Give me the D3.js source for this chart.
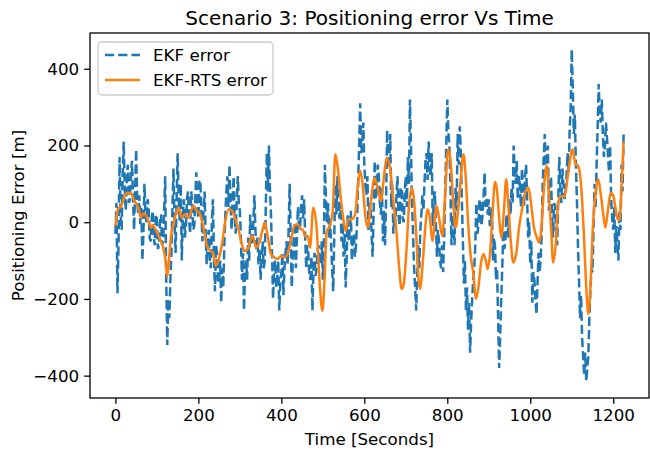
<!DOCTYPE html>
<html>
<head>
<meta charset="utf-8">
<script src="https://cdn.jsdelivr.net/npm/d3@7"></script>
<style>
  body { margin: 0; background: #fff; }
  svg text { font-family: "DejaVu Sans", sans-serif; fill: #000; }
</style>
</head>
<body>
<svg id="chart"></svg>
<script>
const W = 650
const H = 451
const margins = { top: 33, bottom: 53, left: 90, right: 1 }

// EKF error, one sample every 2.5 seconds starting at t = 0
const ekfStep = 2.5
const ekfError = [
  -30, 50, -185, -60, 170, 20, -20, 120, 210, 90, 30, 110, 150, 50, 60, 130, 160, 60, -20, 80,
  190, 60, 20, 70, -5, 40, -100, -30, 100, 20, 0, 60, 40, -40, -50, 10, 30, -40, -60, 20,
  10, -70, -60, 0, 20, -60, -50, 30, 120, -150, -320, -200, -250, -150, -80, 40, 140, 0, -80, 60,
  180, 60, 0, 100, -100, 20, 60, -40, -10, 60, 80, 10, -30, 80, 60, -20, -10, 60, 130, 40,
  10, 110, 100, 20, -50, 30, 80, -30, -110, -40, -20, -100, -120, 0, 60, -90, -180, -60, -80, -160,
  -150, -100, -210, -120, -170, -60, 20, 80, 120, 40, 150, 50, -20, 60, 120, 10, -30, 60, 120, 50,
  30, -40, -150, -80, -230, -130, -100, -150, -40, -100, 20, -50, -60, 0, 70, -20, -70, -40, -110, -70,
  -150, -90, -50, -120, -100, 40, 180, 80, 200, 90, 20, -80, -200, -120, -100, -170, -150, -100, -230, -160,
  -130, -80, -190, -120, -80, -50, -110, -20, 100, -40, -170, -100, -40, 0, -120, -40, 40, -10, -20, 40,
  70, 10, 60, -40, -120, -60, -80, -140, -150, -90, -230, -120, -80, -140, -120, -70, -60, -110, -100, -50,
  -150, -50, 150, 60, 0, 50, -40, 10, -60, -120, -180, -40, 100, 20, 120, 60, 10, 50, -50, 0,
  -90, -30, -170, -90, 20, -50, -20, 30, -100, -40, -30, -90, -60, 0, 100, 200, 310, 180, 200, 260,
  150, 100, 70, 120, -20, 40, 50, -30, -90, 30, 160, 60, 80, 150, 120, 50, 20, 90, -50, 30,
  -60, 60, 240, 140, 150, 230, 40, 100, -30, 20, 0, 70, 120, 20, -10, 90, 90, 10, 0, 80,
  120, 40, 170, 100, 320, 200, 50, -30, -120, -170, -230, -140, -60, -120, -20, 20, 70, 30, 100, 160,
  180, 110, 210, 140, 120, 180, -10, 60, 80, 0, -90, -20, -50, -100, -120, -60, -130, -40, 80, 200,
  320, 240, 200, 100, -60, 20, 0, -60, 90, 30, 230, 150, 250, 190, 60, -40, -160, -100, -230, -170,
  -280, -210, -340, -260, -200, -150, -120, -60, 50, -30, -10, 60, 50, -10, 20, 70, 130, 40, 60, 20,
  60, -10, 0, 40, -100, -40, -60, -150, -120, -250, -380, -300, -200, -120, -20, -70, -50, 20, 0, -40,
  60, 20, 90, 50, 200, 120, 100, 160, 60, 120, 100, 40, 140, 90, 40, 120, 150, 60, -40, 0,
  -110, -50, -210, -130, -150, -200, -240, -160, -80, -130, -100, -30, 100, 170, 230, 130, 150, 200, 30, 90,
  120, 20, -40, 50, 40, -30, -60, 60, 170, 90, 50, 140, 100, 60, 80, 120, 180, 130, 240, 300,
  450, 350, 230, 280, 150, 60, -60, -150, -250, -190, -300, -350, -400, -340, -415, -380, -350, -250, -180, -120,
  -130, -20, 100, 40, 150, 250, 360, 280, 260, 320, 230, 170, 200, 260, 220, 170, 130, 200, 60, 10,
  -20, 40, -80, -10, -50, -100, 30, -20, 150, 80, 230
]

// EKF-RTS error, [time, error] pairs
const rtsError = [
  [0, -10], [6, 34], [14, 42], [22, 68], [30, 77], [38, 75], [46, 55], [54, 42], [62, 12], [66, 22],
  [70, 22], [78, 8], [86, -14], [90, -7], [98, -22], [106, -40], [114, -62], [121, -100], [125, -142], [129, -100],
  [134, -36], [140, -5], [152, 38], [160, 12], [168, 21], [176, 12], [188, 42], [196, 30], [204, 21], [212, -14],
  [221, -62], [229, -75], [235, -79], [242, -113], [249, -96], [257, -57], [265, 3], [273, 34], [281, 30], [289, 8],
  [297, -20], [303, -49], [311, -75], [319, -70], [327, -40], [331, -36], [339, -66], [347, -53], [355, -18], [360, -1],
  [367, -36], [375, -83], [383, -92], [391, -96], [399, -88], [407, -92], [415, -83], [423, -49], [431, -10], [439, -5],
  [447, -18], [452, -20], [457, -36], [464, -36], [469, -66], [477, 38], [485, -14], [493, -170], [499, -231], [504, -153],
  [509, -27], [518, -5], [524, 30], [530, 177], [536, 142], [544, 55], [550, 3], [555, -23], [562, 8], [570, 8],
  [578, 21], [584, 90], [590, 134], [596, 99], [602, 21], [608, -14], [618, 73], [624, 116], [632, 90], [640, 55],
  [648, 125], [654, 168], [662, 142], [670, 55], [678, -31], [684, -118], [690, -174], [695, -161], [702, -66], [708, 47],
  [715, 90], [720, 55], [726, -49], [731, -153], [735, -174], [740, -118], [747, -14], [752, 34], [758, 12], [764, -49],
  [774, 42], [780, 12], [788, -36], [794, 55], [802, 190], [808, 160], [814, 55], [820, -14], [826, 30], [832, 108],
  [839, 177], [844, 125], [851, -14], [856, -83], [863, -135], [869, -200], [875, -170], [881, -109], [887, -83], [893, -100],
  [897, -122], [903, -83], [908, 3], [915, 105], [919, 90], [925, 12], [930, -40], [937, 38], [942, 112], [947, 47],
  [953, -49], [959, -105], [966, -83], [973, -14], [981, 38], [989, 81], [996, 90], [1003, 38], [1009, -14], [1016, -40],
  [1021, -53], [1027, -14], [1033, 90], [1040, 147], [1045, 73], [1051, -31], [1055, -105], [1062, -49], [1067, 50], [1073, 68],
  [1083, 68], [1091, 125], [1102, 190], [1109, 151], [1115, 147], [1123, 90], [1130, -49], [1135, -170], [1140, -239], [1145, -170],
  [1151, -14], [1157, 73], [1164, 112], [1170, 73], [1176, 21], [1181, -14], [1188, 38], [1194, 77], [1200, 70], [1205, 40],
  [1210, 10], [1215, 5], [1220, 90], [1225, 210]
]

const xTicks = [0, 200, 400, 600, 800, 1000, 1200]
const yTicks = [-400, -200, 0, 200, 400]

const ekfPoints = ekfError.map((v, i) => [i * ekfStep, v])

const w = W - margins.left - margins.right
const h = H - margins.top - margins.bottom

const outer = d3.select('svg#chart').attr('width', W).attr('height', H)
const inner = outer.append('g')
  .attr('transform', 'translate(' + margins.left + ',' + margins.top + ')')

// matplotlib style 5% padding
function padded(lo, hi) {
  const p = (hi - lo) * 0.05
  return [lo - p, hi + p]
}
const allT = ekfPoints.map(d => d[0]).concat(rtsError.map(d => d[0]))
const allV = ekfPoints.map(d => d[1]).concat(rtsError.map(d => d[1]))

const xScale = d3.scaleLinear().domain(padded(d3.min(allT), d3.max(allT))).range([0, w])
const yScale = d3.scaleLinear().domain(padded(d3.min(allV), d3.max(allV))).range([h, 0])

inner.append('defs').append('clipPath').attr('id', 'clip')
  .append('rect').attr('width', w).attr('height', h)

const line = d3.line().x(d => xScale(d[0])).y(d => yScale(d[1]))

const plot = inner.append('g').attr('clip-path', 'url(#clip)')

plot.append('path')
  .datum(ekfPoints)
  .attr('d', line)
  .attr('fill', 'none')
  .attr('stroke', '#1f77b4')
  .attr('stroke-width', 2.5)
  .attr('stroke-dasharray', '9.2,4')

plot.append('path')
  .datum(rtsError)
  .attr('d', line.curve(d3.curveMonotoneX))
  .attr('fill', 'none')
  .attr('stroke', '#ff7f0e')
  .attr('stroke-width', 2.5)
  .attr('stroke-linejoin', 'round')

// axes
const xAxis = d3.axisBottom(xScale).tickValues(xTicks).tickFormat(d3.format('d')).tickSize(5.8).tickPadding(5)
const yAxis = d3.axisLeft(yScale).tickValues(yTicks).tickFormat(d3.format('d')).tickSize(5.8).tickPadding(5)

const gx = inner.append('g').attr('transform', 'translate(0,' + h + ')').call(xAxis)
const gy = inner.append('g').call(yAxis)
;[gx, gy].forEach(g => {
  g.select('.domain').remove()
  g.selectAll('line').attr('stroke', '#000').attr('stroke-width', 1.3)
  g.selectAll('text').attr('font-size', 16.7).attr('font-family', 'DejaVu Sans').attr('fill', '#000')
})

inner.append('rect')
  .attr('width', w)
  .attr('height', h)
  .attr('fill', 'none')
  .attr('stroke', '#000')
  .attr('stroke-width', 1.3)

// labels
outer.append('text')
  .attr('x', margins.left + w / 2)
  .attr('y', 25)
  .attr('text-anchor', 'middle')
  .attr('font-size', 20)
  .text('Scenario 3: Positioning error Vs Time')

outer.append('text')
  .attr('x', margins.left + w / 2)
  .attr('y', 445)
  .attr('text-anchor', 'middle')
  .attr('font-size', 16.7)
  .text('Time [Seconds]')

outer.append('text')
  .attr('transform', 'translate(24,' + (margins.top + h / 2) + ') rotate(-90)')
  .attr('text-anchor', 'middle')
  .attr('font-size', 16.7)
  .text('Positioning Error [m]')

// legend
const legend = inner.append('g').attr('transform', 'translate(8,9)')
legend.append('rect')
  .attr('width', 175)
  .attr('height', 53)
  .attr('rx', 4)
  .attr('fill', '#fff')
  .attr('fill-opacity', 0.8)
  .attr('stroke', '#ccc')
  .attr('stroke-width', 1.3)

const legendItems = [
  { name: 'EKF error', color: '#1f77b4', dash: '9.2,4' },
  { name: 'EKF-RTS error', color: '#ff7f0e', dash: null }
]
legendItems.forEach((d, i) => {
  const y = 13 + i * 25
  legend.append('line')
    .attr('x1', 7).attr('x2', 42).attr('y1', y).attr('y2', y)
    .attr('stroke', d.color)
    .attr('stroke-width', 2.5)
    .attr('stroke-dasharray', d.dash)
  legend.append('text')
    .attr('x', 55)
    .attr('y', y + 6)
    .attr('font-size', 16.7)
    .text(d.name)
})
</script>
</body>
</html>
